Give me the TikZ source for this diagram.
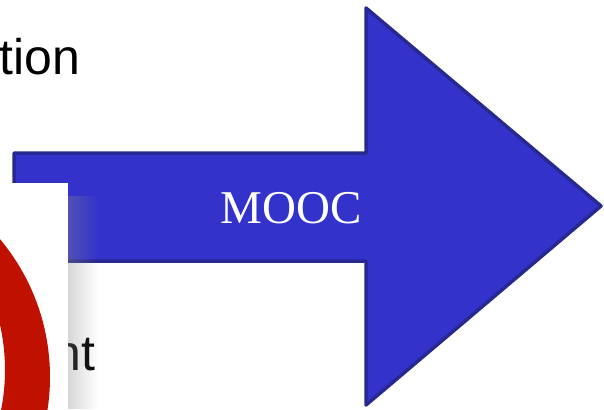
\documentclass[tikz,border=0pt]{standalone}
\usepackage{fontspec}
\setmainfont{Liberation Serif}
\newfontfamily\arialfont{Liberation Sans}
\usetikzlibrary{fadings}
\definecolor{arrowblue}{RGB}{51,51,204}
\definecolor{arrowedge}{RGB}{40,40,145}
\definecolor{ringred}{RGB}{192,16,0}
\definecolor{shadowgray}{RGB}{140,140,140}

\begin{document}
\begin{tikzpicture}[x=1pt, y=1pt,
    slidetext/.style={inner sep=0pt, font=\arialfont\fontsize{50}{60}\selectfont}]
    % 0. Khung trang
    \useasboundingbox (0,0) rectangle (604,-409);
    \clip (0,0) rectangle (604,-409);

    % 1. Chữ phía sau
    \node[slidetext, anchor=base west] (tion) at (-1,-75) {tion};
    \node[slidetext, anchor=base west] (nt) at (53,-370) {nt};

    % 2. Tọa độ các đỉnh của mũi tên
    \coordinate (S1) at (14,-153);
    \coordinate (S2) at (366,-153);
    \coordinate (H1) at (366,-8);
    \coordinate (T)  at (601,-206);
    \coordinate (H2) at (366,-405);
    \coordinate (S3) at (366,-261);
    \coordinate (S4) at (14,-261);

    % 3. Mũi tên và nhãn
    \draw[line width=3.5pt, line join=round, draw=arrowedge, fill=arrowblue]
        (S1) -- (S2) -- (H1) -- (T) -- (H2) -- (S3) -- (S4) -- cycle;
    \node[anchor=base, inner sep=0pt, text=white, font=\fontsize{47}{56}\selectfont]
        (mooc) at (291,-223) {MOOC};

    % 4. Bóng và khung trắng
    \fill[shadowgray, fill opacity=0.35, path fading=east] (68,-196) rectangle (98,-409);
    \fill[white] (-5,-183) rectangle (68,-420);

    % 5. Vòng đỏ
    \fill[ringred, even odd rule] (-165,-377) circle (215) (-200,-370) circle (205);
\end{tikzpicture}
\end{document}
